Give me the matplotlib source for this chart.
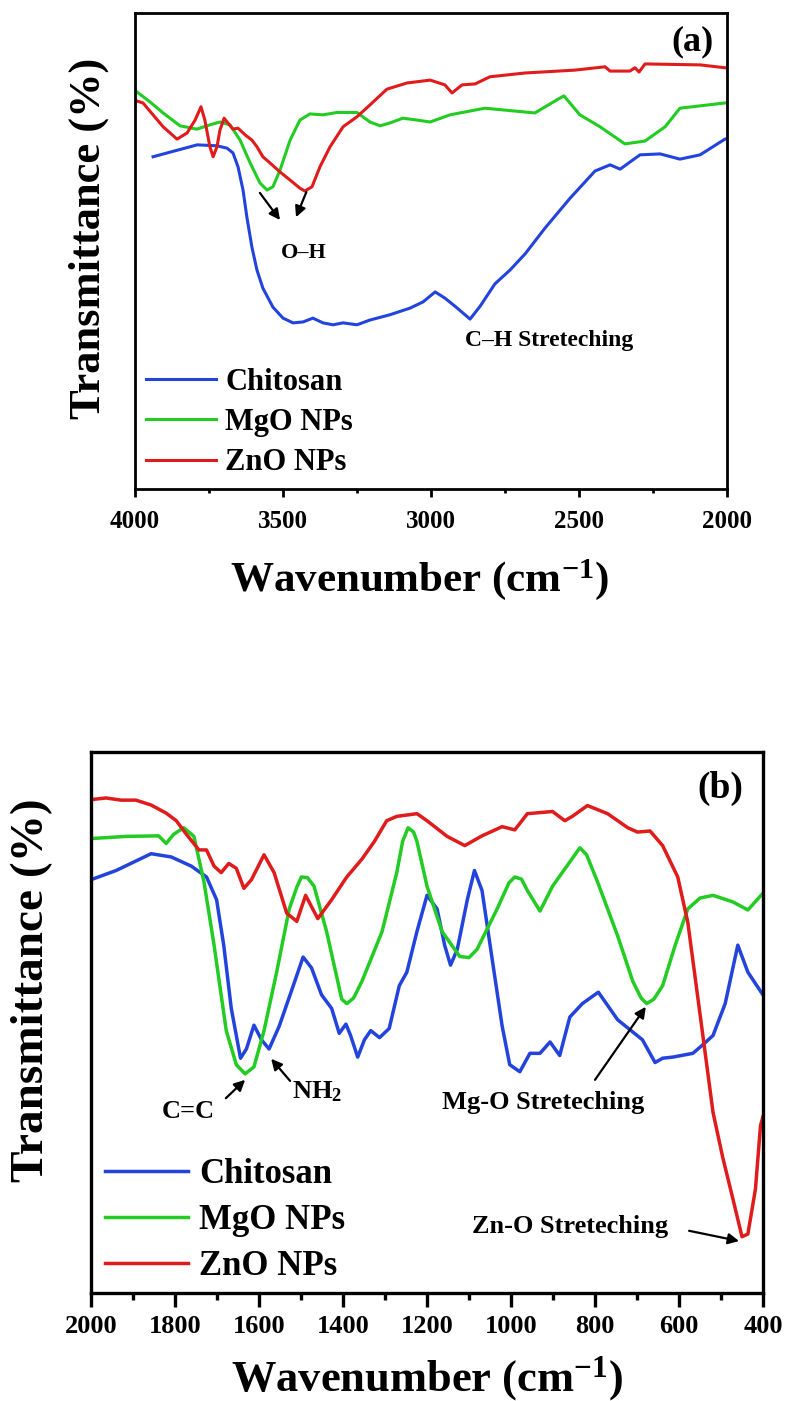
import matplotlib
matplotlib.use("Agg")
import matplotlib.pyplot as plt

plt.rcParams['font.family'] = ['Liberation Serif', 'DejaVu Serif']
plt.rcParams['font.weight'] = 'bold'
plt.rcParams['mathtext.fontset'] = 'custom'
plt.rcParams['mathtext.rm'] = 'Liberation Serif:bold'
plt.rcParams['mathtext.it'] = 'Liberation Serif:bold'
plt.rcParams['mathtext.bf'] = 'Liberation Serif:bold'

# ---- panel (a): 4000-2000 cm-1 ----
chit_a_wn = [3939, 3790, 3723, 3689, 3669, 3652, 3635, 3622, 3605, 3588, 3568, 3534, 3500, 3466,
             3432, 3399, 3365, 3331, 3297, 3250, 3206, 3139, 3071, 3027, 2986, 2953, 2919, 2868,
             2834, 2784, 2733, 2682, 2615, 2530, 2446, 2395, 2361, 2294, 2226, 2159, 2091, 2007]
chit_a_t = [69.8, 72.3, 72.1, 71.6, 70.6, 67.7, 62.8, 57.1, 50.8, 46.0, 42.2, 38.2, 35.9, 34.9,
            35.1, 35.9, 34.9, 34.5, 34.9, 34.5, 35.5, 36.6, 38.0, 39.3, 41.4, 40.1, 38.4, 35.7,
            38.4, 43.1, 46.0, 49.4, 54.8, 61.1, 66.8, 68.1, 67.2, 70.2, 70.4, 69.3, 70.2, 73.5]

mgo_a_wn = [3993, 3949, 3905, 3848, 3791, 3747, 3713, 3679, 3645, 3611, 3578, 3554, 3534, 3510,
            3476, 3443, 3409, 3365, 3318, 3250, 3206, 3172, 3139, 3095, 3047, 3003, 2936, 2818,
            2649, 2598, 2551, 2497, 2429, 2345, 2277, 2209, 2159, 2007]
mgo_a_t = [83.4, 81.3, 79.0, 76.3, 75.6, 76.5, 77.1, 76.5, 73.3, 68.5, 64.3, 62.8, 63.5, 67.0,
           73.3, 77.5, 78.8, 78.6, 79.1, 79.1, 77.1, 76.3, 76.9, 77.9, 77.5, 77.1, 78.6, 80.0,
           79.0, 80.9, 82.6, 78.6, 76.1, 72.5, 73.1, 76.1, 80.0, 81.1]

zno_a_wn = [3993, 3973, 3939, 3905, 3858, 3824, 3797, 3777, 3764, 3747, 3736, 3723, 3713, 3699,
            3686, 3669, 3652, 3628, 3605, 3588, 3568, 3544, 3510, 3476, 3443, 3426, 3402, 3375,
            3341, 3297, 3250, 3206, 3149, 3081, 3003, 2953, 2929, 2895, 2851, 2801, 2682, 2514,
            2412, 2395, 2328, 2311, 2297, 2277, 2091, 2007]
zno_a_t = [81.5, 81.1, 78.6, 76.1, 73.5, 74.8, 77.5, 80.3, 77.5, 71.9, 69.8, 71.9, 75.4, 77.9,
           76.9, 75.6, 75.8, 74.4, 73.3, 71.9, 69.8, 68.5, 66.6, 64.9, 63.2, 62.6, 63.5, 67.7,
           71.9, 76.1, 78.2, 80.7, 84.0, 85.3, 85.9, 84.9, 83.2, 84.9, 85.1, 86.6, 87.4, 88.0,
           88.7, 87.8, 87.8, 88.5, 87.6, 89.3, 89.1, 88.5]

# ---- panel (b): 2000-400 cm-1 ----
chit_b_wn = [2000, 1940, 1857, 1809, 1761, 1725, 1701, 1684, 1666, 1644, 1630, 1612, 1594, 1576,
             1552, 1522, 1495, 1475, 1451, 1427, 1409, 1393, 1382, 1365, 1349, 1334, 1313, 1290,
             1266, 1248, 1224, 1200, 1176, 1158, 1144, 1128, 1104, 1087, 1069, 1045, 1021, 1003,
             979, 955, 931, 907, 884, 860, 830, 792, 746, 687, 657, 639, 615, 567, 543, 519,
             490, 460, 436, 400]
chit_b_t = [76.4, 78.1, 81.2, 80.6, 78.9, 76.9, 72.7, 64.3, 52.6, 43.4, 45.1, 49.5, 46.8, 45.1,
            49.3, 56.0, 62.1, 60.1, 55.1, 52.6, 48.0, 49.7, 47.6, 43.6, 46.8, 48.5, 47.2, 48.9,
            56.8, 59.3, 66.8, 73.5, 71.0, 64.3, 60.6, 63.5, 72.7, 78.1, 74.4, 61.8, 49.3, 42.2,
            40.9, 44.3, 44.3, 46.4, 43.9, 51.0, 53.5, 55.6, 50.5, 46.8, 42.6, 43.4, 43.6, 44.3,
            45.9, 47.6, 53.5, 64.3, 59.3, 55.1]

mgo_b_wn = [2000, 1916, 1839, 1821, 1803, 1779, 1755, 1731, 1707, 1678, 1654, 1633, 1612, 1588,
            1558, 1528, 1510, 1499, 1485, 1469, 1439, 1403, 1391, 1375, 1355, 1307, 1272, 1258,
            1245, 1232, 1224, 1200, 1164, 1122, 1100, 1081, 1033, 1005, 991, 975, 961, 931, 901,
            836, 820, 794, 746, 710, 690, 677, 660, 639, 609, 579, 550, 519, 472, 436, 400]
mgo_b_t = [84.0, 84.4, 84.5, 83.1, 84.8, 86.0, 84.4, 76.0, 64.3, 48.5, 42.2, 40.5, 41.8, 48.5,
           59.3, 71.0, 75.0, 76.9, 76.8, 75.2, 66.8, 54.3, 53.5, 54.5, 57.6, 66.8, 77.7, 83.5,
           86.0, 85.2, 83.5, 75.2, 66.8, 62.2, 62.0, 63.5, 71.0, 75.8, 76.9, 76.5, 74.4, 70.6,
           75.2, 82.3, 81.0, 76.0, 66.0, 57.6, 54.5, 53.5, 54.3, 56.8, 64.3, 71.0, 73.0, 73.5,
           72.3, 70.8, 73.9]

zno_b_wn = [2000, 1964, 1928, 1893, 1857, 1821, 1797, 1773, 1743, 1725, 1707, 1690, 1672, 1654,
            1636, 1618, 1588, 1564, 1534, 1510, 1489, 1460, 1427, 1391, 1355, 1325, 1296, 1272,
            1224, 1200, 1152, 1110, 1069, 1021, 991, 961, 901, 872, 854, 818, 770, 722, 699,
            669, 639, 603, 579, 549, 519, 496, 472, 450, 436, 418, 406, 400]
zno_b_t = [91.2, 91.5, 91.1, 91.1, 90.2, 88.7, 87.3, 84.8, 81.9, 81.9, 78.9, 77.7, 79.4, 78.5,
           74.8, 76.4, 81.0, 77.7, 70.2, 68.7, 73.5, 69.2, 72.7, 76.9, 80.2, 83.5, 87.3, 88.1,
           88.6, 87.3, 84.4, 82.7, 84.5, 86.2, 85.6, 88.6, 89.0, 87.3, 88.1, 90.1, 88.6, 86.0,
           85.2, 85.4, 82.7, 76.9, 68.5, 51.0, 33.4, 25.1, 17.5, 10.4, 10.9, 19.2, 30.9, 32.6]

labels = ['Chitosan', 'MgO NPs', 'ZnO NPs']
colors = ['#2244dd', '#22cc22', '#e01b1b']

fig = plt.figure(figsize=(7.86, 14.01), dpi=100)

ax1 = fig.add_axes([135/786, 1-489/1401, 592/786, 476/1401])
ax1.plot(chit_a_wn, chit_a_t, color=colors[0], lw=2.2, label=labels[0])
ax1.plot(mgo_a_wn, mgo_a_t, color=colors[1], lw=2.2, label=labels[1])
ax1.plot(zno_a_wn, zno_a_t, color=colors[2], lw=2.2, label=labels[2])
ax1.set_xlim(4000, 2000)
ax1.set_ylim(0, 100)
ax1.set_xticks([4000, 3500, 3000, 2500, 2000])
ax1.set_xticks([3750, 3250, 2750, 2250], minor=True)
ax1.set_yticks([])
ax1.tick_params(axis='x', which='major', direction='out', length=6, width=2, labelsize=18, pad=9)
ax1.tick_params(axis='x', which='minor', direction='out', length=3, width=2)
for s in ax1.spines.values():
    s.set_linewidth(2)
ax1.set_xlabel(r'Wavenumber (cm$^{-1}$)', fontsize=31, fontweight='bold', va='center')
ax1.xaxis.set_label_coords(0.48, -0.19)
ax1.set_ylabel('Transmittance (%)', fontsize=32, fontweight='bold', va='center')
ax1.yaxis.set_label_coords(-0.078, 0.527)
ax1.legend(loc='upper left', bbox_to_anchor=(0.0186, 0.255), frameon=False, fontsize=22,
           handlelength=2.3, handletextpad=0.3, labelspacing=0.37, borderpad=0, borderaxespad=0)
ax1.text(2118, 93.9, '(a)', fontsize=26, fontweight='bold', ha='center', va='center')
ax1.text(3431, 49.5, 'O–H', fontsize=16, fontweight='bold', ha='center', va='center')
ax1.text(2601, 31.1, 'C–H Streteching', fontsize=17, fontweight='bold', ha='center', va='center')
arr = dict(arrowstyle='-|>', color='k', lw=1.6, mutation_scale=16, shrinkA=0, shrinkB=0)
ax1.annotate('', xy=(3510, 56.5), xytext=(3578, 62.2), arrowprops=arr)
ax1.annotate('', xy=(3456, 57.1), xytext=(3421, 62.4), arrowprops=arr)

ax2 = fig.add_axes([91/786, 1-1293/1401, 672/786, 541/1401])
ax2.plot(chit_b_wn, chit_b_t, color=colors[0], lw=2.5, label=labels[0])
ax2.plot(mgo_b_wn, mgo_b_t, color=colors[1], lw=2.5, label=labels[1])
ax2.plot(zno_b_wn, zno_b_t, color=colors[2], lw=2.5, label=labels[2])
ax2.set_xlim(2000, 400)
ax2.set_ylim(0, 100)
ax2.set_xticks(range(2000, 399, -200))
ax2.set_xticks(range(1900, 400, -200), minor=True)
ax2.set_yticks([])
ax2.tick_params(axis='x', which='major', direction='out', length=10, width=2.4, labelsize=19, pad=6)
ax2.tick_params(axis='x', which='minor', direction='out', length=5, width=2.4)
for s in ax2.spines.values():
    s.set_linewidth(2.4)
ax2.set_xlabel(r'Wavenumber (cm$^{-1}$)', fontsize=32, fontweight='bold', va='center')
ax2.xaxis.set_label_coords(0.5, -0.158)
ax2.set_ylabel('Transmittance (%)', fontsize=34, fontweight='bold', va='center')
ax2.yaxis.set_label_coords(-0.088, 0.56)
ax2.legend(loc='upper left', bbox_to_anchor=(0.021, 0.25), frameon=False, fontsize=25,
           handlelength=2.4, handletextpad=0.3, labelspacing=0.38, borderpad=0, borderaxespad=0)
ax2.text(502, 93.2, '(b)', fontsize=27, fontweight='bold', ha='center', va='center')
ax2.text(1769, 33.5, 'C=C', fontsize=19, fontweight='bold', ha='center', va='center')
ax2.text(1462, 37.3, r'NH$_2$', fontsize=19, fontweight='bold', ha='center', va='center')
ax2.text(924, 35.3, 'Mg-O Streteching', fontsize=19, fontweight='bold', ha='center', va='center')
ax2.text(860, 12.2, 'Zn-O Streteching', fontsize=19, fontweight='bold', ha='center', va='center')
ax2.annotate('', xy=(1633, 39.4), xytext=(1679, 36.0), arrowprops=arr)
ax2.annotate('', xy=(1571, 43.3), xytext=(1526, 39.2), arrowprops=arr)
ax2.annotate('', xy=(679, 52.9), xytext=(800, 39.4), arrowprops=arr)
ax2.annotate('', xy=(457, 9.6), xytext=(576, 11.5), arrowprops=arr)

fig.savefig('out.png', dpi=100)
